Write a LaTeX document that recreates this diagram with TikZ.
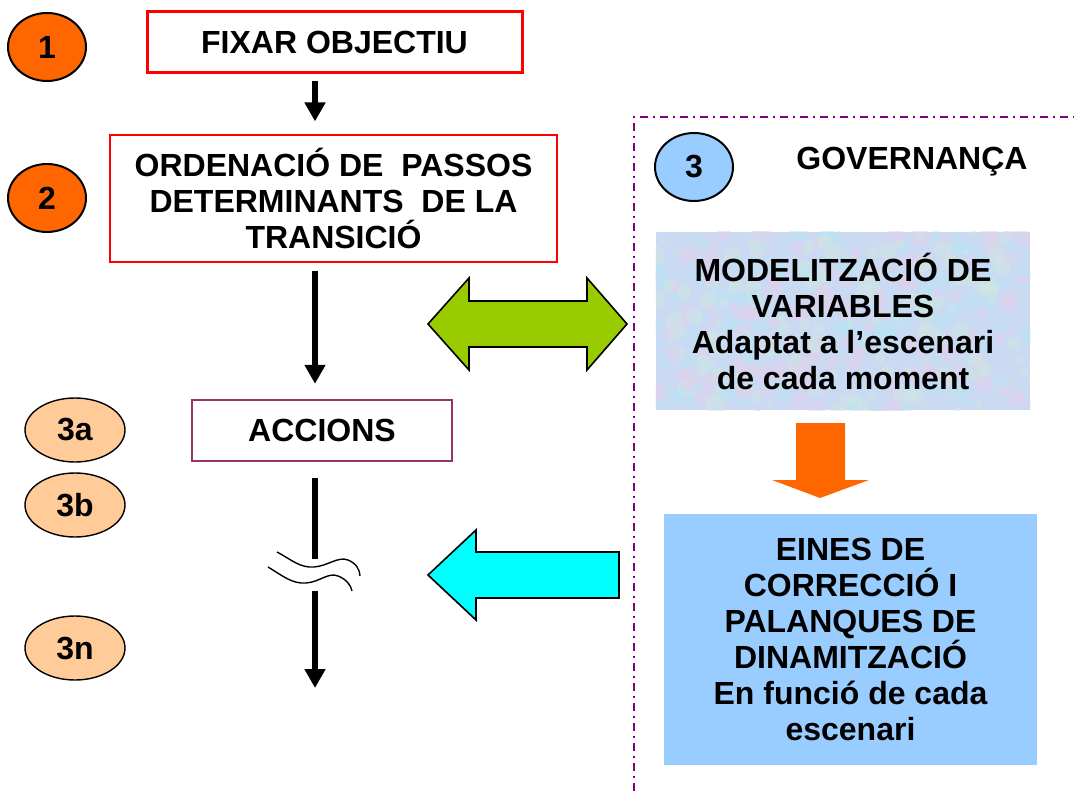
\documentclass[tikz,border=0pt]{standalone}
\usepackage{fontspec}
\setmainfont{Liberation Sans}
\usetikzlibrary{positioning, arrows.meta, shapes.geometric, backgrounds}

\definecolor{orangeN}{RGB}{255,102,0}
\definecolor{peach}{RGB}{255,204,153}
\definecolor{skyblue}{RGB}{153,204,255}
\definecolor{plum}{RGB}{153,51,102}
\definecolor{govpurple}{RGB}{128,0,128}
\definecolor{lime}{RGB}{153,204,0}
\definecolor{aqua}{RGB}{0,255,255}
\definecolor{pastel}{RGB}{202,218,242}
\definecolor{pastelpink}{RGB}{226,208,236}
\definecolor{pastelcyan}{RGB}{188,226,244}
\definecolor{pastelgreen}{RGB}{208,230,226}

\begin{document}
\begin{tikzpicture}[x=0.5pt, y=-0.5pt, font=\fontsize{16}{18}\selectfont\bfseries,
        stepnum/.style={ellipse, draw, line width=1pt, fill=orangeN, minimum width=39pt, minimum height=34pt, inner sep=0pt},
        subnum/.style={ellipse, draw, line width=0.7pt, fill=peach, minimum width=50pt, minimum height=32pt, inner sep=0pt},
        stepbox/.style={rectangle, align=center, inner sep=0pt},
        flow/.style={line width=2.6pt, -{Triangle[length=9.5pt, width=10pt]}},
        blockarrow/.style={draw=black, line width=0.8pt, line join=miter}]
        \useasboundingbox (0,0) rectangle (1074,791);
        \coordinate (axis) at (315,0);

        % left column
        \node (obj) [stepbox, draw=red, line width=1.5pt, minimum width=187.5pt, minimum height=30.5pt] at (334.5,42.5) {FIXAR OBJECTIU};
        \node (pas) [stepbox, draw=red, line width=0.6pt, minimum width=223.5pt, minimum height=63.5pt] at (333.5,198.5)
            {ORDENACIÓ DE\ \ PASSOS\\DETERMINANTS\ \ DE LA\\TRANSICIÓ};
        \node (acc) [stepbox, draw=plum, line width=1.2pt, minimum width=130pt, minimum height=30.5pt] at (322,430.5) {ACCIONS};

        \node (c1) [stepnum] at (47,47) {1};
        \node (c2) [stepnum] at (47,198) {2};
        \node (c3a) [subnum] at (75,430) {3a};
        \node (c3b) [subnum] at (75,505) {3b};
        \node (c3n) [subnum] at (75,648) {3n};

        \coordinate (brkA) at (315,559);
        \coordinate (brkB) at (315,591);
        \coordinate (fin) at (315,688);

        \draw[flow, shorten <=3.5pt, shorten >=6.5pt] (obj.south -| axis) -- (pas.north -| axis);
        \draw[flow, shorten <=4pt, shorten >=7.5pt] (pas.south -| axis) -- (acc.north -| axis);
        \draw[line width=2.6pt, shorten <=8pt] (acc.south -| axis) -- (brkA);
        \draw[flow] (brkB) -- (fin);

        % break marks
        \draw[line width=0.7pt] (277,552) .. controls (292,560) and (300,568) .. (314,567)
            .. controls (328,566) and (338,556) .. (348,560) .. controls (356,563) and (360,570) .. (360,576);
        \draw[line width=0.7pt] (268,567) .. controls (283,576) and (292,584) .. (306,583)
            .. controls (320,582) and (328,572) .. (338,576) .. controls (346,579) and (351,585) .. (352,591);

        % governance frame
        \draw[govpurple, line width=1pt, dash pattern=on 4pt off 2.5pt on 1pt off 2.5pt] (634,791) -- (634,117) -- (1074,117);
        \node (c3) [stepnum, fill=skyblue] at (694,167) {3};
        \node (gov) at (912,162) {GOVERNANÇA};

        \node (mod) [stepbox, minimum width=187pt, minimum height=89pt] at (843,321)
            {MODELITZACIÓ DE\\VARIABLES\\Adaptat a l’escenari\\de cada moment};
        \begin{scope}[on background layer]
            \clip (mod.north west) rectangle (mod.south east);
            \fill[pastel] (mod.north west) rectangle (mod.south east);
            \pgfmathsetseed{7}
            \foreach \i in {1,...,420} {
                \pgfmathsetmacro{\px}{656+rnd*374}
                \pgfmathsetmacro{\py}{232+rnd*178}
                \pgfmathsetmacro{\pr}{1.5+rnd*3.5}
                \pgfmathtruncatemacro{\pc}{mod(\i,3)}
                \ifcase\pc \def\blot{pastelpink}\or \def\blot{pastelcyan}\else \def\blot{pastelgreen}\fi
                \fill[\blot, opacity=0.5] (\px,\py) circle[radius=\pr pt];
            }
        \end{scope}
        \node (ein) [stepbox, fill=skyblue, minimum width=186.5pt, minimum height=125.5pt] at (850.5,639.5)
            {EINES DE\\CORRECCIÓ I\\PALANQUES DE\\DINAMITZACIÓ\\En funció de cada\\escenari};

        % block arrows
        \draw[blockarrow, fill=lime] (428,324) -- (469,278) -- (469,301) -- (587,301) -- (587,278) -- (627,324)
            -- (587,370) -- (587,347) -- (469,347) -- (469,370) -- cycle;
        \fill[orangeN] (796,423) -- (845,423) -- (845,480) -- (869,480) -- (820,498) -- (772,480) -- (796,480) -- cycle;
        \draw[blockarrow, fill=aqua] (428,575) -- (476,530) -- (476,552) -- (619,552) -- (619,598) -- (476,598)
            -- (476,620) -- cycle;
    \end{tikzpicture}
\end{document}
